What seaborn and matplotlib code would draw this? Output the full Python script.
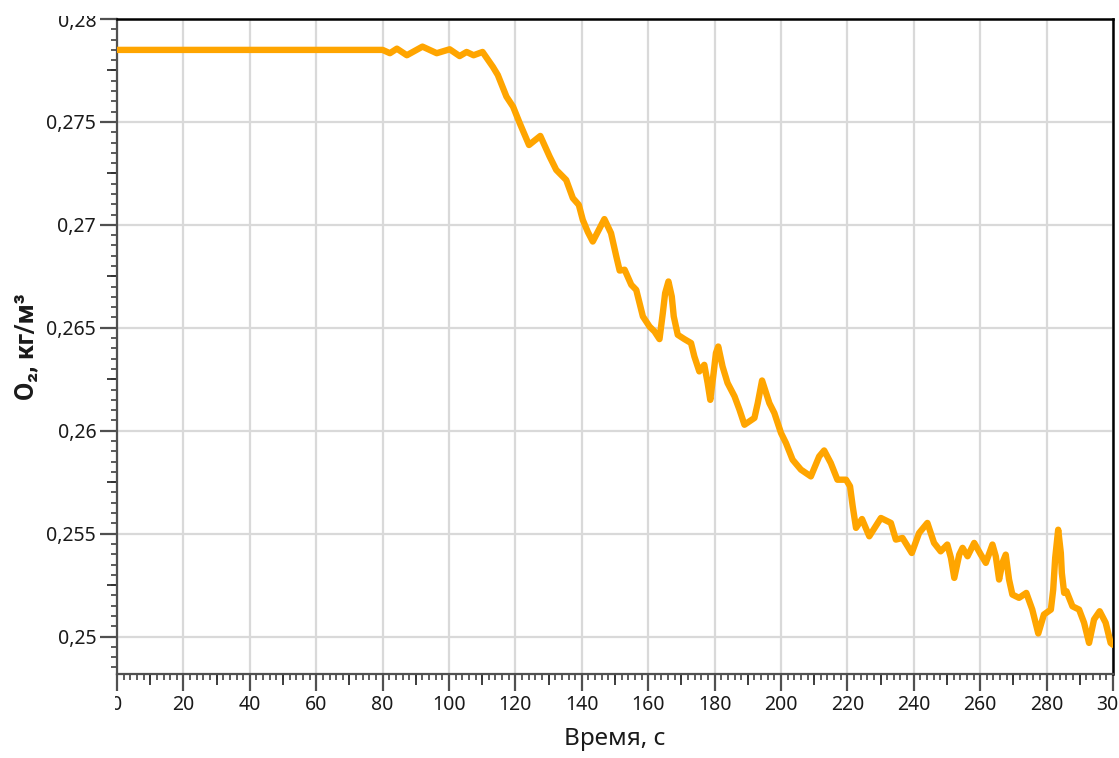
import matplotlib
matplotlib.use("Agg")
import matplotlib.pyplot as plt
from matplotlib.ticker import MultipleLocator, FuncFormatter
from matplotlib.patches import Rectangle
import seaborn as sns
import pandas as pd

# O2 concentration over time, read at irregular instants
time_s = [0, 80, 82.2, 84.3, 87.3, 92, 96.3, 100.2, 103.2, 105.3, 107.4, 110.1,
          113.2, 114.7, 117.3, 119.3, 121.3, 124.1, 127.5, 130.3, 132.3, 135.3,
          137.3, 139.1, 140.3, 141.8, 143.3, 146.8, 148.8, 150.4, 151.4, 152.9,
          154.9, 156.4, 158.4, 160.4, 161.9, 163.4, 164.4, 165.1, 166.1, 167.1,
          167.7, 168.9, 170.9, 172.9, 173.9, 175.4, 176.9, 177.9, 178.7, 179.7,
          180.4, 181.1, 182.4, 183.9, 186, 187.5, 189, 192, 193, 194.3, 196.5,
          198, 200, 201.5, 203.5, 206, 209, 211.5, 213, 215, 217, 219.6, 220.8,
          221.6, 222.6, 224.4, 226.6, 230.1, 233.1, 234.6, 236.6, 239.4, 241.6,
          244.1, 246.1, 248.1, 250.1, 251.2, 252.2, 253.7, 254.7, 256.2, 258.2,
          260.2, 261.7, 263.7, 264.7, 265.7, 266.7, 267.7, 268.7, 269.7, 271.7,
          273.9, 275.7, 277.5, 279.2, 281.3, 282, 282.6, 283.5, 284.3, 284.6,
          285.3, 286, 287.8, 289.8, 291.3, 292.8, 294.3, 296, 297.8, 299.3, 300]
o2_kg_m3 = [0.27850, 0.27850, 0.27834, 0.27856, 0.27824, 0.27866, 0.27834,
            0.27853, 0.27820, 0.27840, 0.27824, 0.27840, 0.27768, 0.27728,
            0.27623, 0.27574, 0.27494, 0.27388, 0.27432, 0.27332, 0.27267,
            0.27218, 0.27130, 0.27097, 0.27024, 0.26966, 0.26919, 0.27028,
            0.26960, 0.26846, 0.26778, 0.26782, 0.26709, 0.26684, 0.26555,
            0.26506, 0.26482, 0.26445, 0.26571, 0.26668, 0.26725, 0.26652,
            0.26555, 0.26466, 0.26445, 0.26426, 0.26361, 0.26288, 0.26320,
            0.26232, 0.26150, 0.26280, 0.26377, 0.26409, 0.26312, 0.26232,
            0.26167, 0.26102, 0.26029, 0.26062, 0.26134, 0.26244, 0.26134,
            0.26086, 0.25989, 0.25940, 0.25859, 0.25811, 0.25778, 0.25875,
            0.25904, 0.25843, 0.25762, 0.25762, 0.25730, 0.25633, 0.25528,
            0.25571, 0.25487, 0.25576, 0.25552, 0.25471, 0.25479, 0.25406,
            0.25503, 0.25552, 0.25455, 0.25414, 0.25447, 0.25382, 0.25285,
            0.25398, 0.25431, 0.25390, 0.25455, 0.25398, 0.25358, 0.25447,
            0.25390, 0.25277, 0.25358, 0.25398, 0.25277, 0.25204, 0.25188,
            0.25212, 0.25131, 0.25015, 0.25107, 0.25131, 0.25228, 0.25382,
            0.25519, 0.25406, 0.25309, 0.25212, 0.25220, 0.25147, 0.25131,
            0.25067, 0.24969, 0.25083, 0.25123, 0.25067, 0.24969, 0.24960]

x_ticks = list(range(0, 301, 20))
y_ticks = [0.25, 0.255, 0.26, 0.265, 0.27, 0.275, 0.28]

df = pd.DataFrame({"t": time_s, "o2": o2_kg_m3})

sns.set_theme(style="white")
plt.rcParams["font.family"] = ["Noto Sans", "DejaVu Sans"]

fig = plt.figure(figsize=(11.19, 7.58), dpi=100)
ax = fig.add_axes([0.1046, 0.1108, 0.8900, 0.8641])

sns.lineplot(data=df, x="t", y="o2", ax=ax, color="#FFA500", linewidth=4.6,
             solid_joinstyle="round", solid_capstyle="round", zorder=3)

ax.set_xlim(0, 300)
ax.set_ylim(0.24818, 0.28)

ax.set_xticks(x_ticks)
ax.set_yticks(y_ticks)
ax.xaxis.set_minor_locator(MultipleLocator(2))
ax.yaxis.set_minor_locator(MultipleLocator(0.0005))
ax.xaxis.set_major_formatter(FuncFormatter(lambda v, p: f"{v:g}"))
ax.yaxis.set_major_formatter(
    FuncFormatter(lambda v, p: f"{v:g}".replace(".", ",")))

ax.grid(True, which="major", color="#d9d9d9", linewidth=1.6, zorder=0)
ax.grid(False, which="minor")
ax.set_axisbelow(True)

ax.tick_params(axis="both", which="major", direction="out", length=12,
               width=1.6, color="#505050", labelsize=14, pad=3,
               labelcolor="#1a1a1a", bottom=True, left=True)
ax.tick_params(axis="both", which="minor", direction="out", length=4.3,
               width=1.1, color="#303030", bottom=True, left=True)

# intermediate ticks halfway between labelled ones
sec_x = ax.secondary_xaxis("bottom")
sec_x.set_xticks([v + 10 for v in x_ticks[:-1]])
sec_x.tick_params(direction="out", length=8, width=1.3, color="#303030",
                  bottom=True, labelbottom=False)
sec_x.spines["bottom"].set_visible(False)
sec_y = ax.secondary_yaxis("left")
sec_y.set_yticks([v + 0.0025 for v in y_ticks[:-1]])
sec_y.tick_params(direction="out", length=7.5, width=1.3, color="#303030",
                  left=True, labelleft=False)
sec_y.spines["left"].set_visible(False)

for side in ["left", "bottom"]:
    ax.spines[side].set_color("#505050")
    ax.spines[side].set_linewidth(1.6)
for side in ["top", "right"]:
    ax.spines[side].set_color("#000000")
    ax.spines[side].set_linewidth(1.8)

ax.set_xlabel("Время, с", fontsize=17.5, color="#1a1a1a", labelpad=9)
ax.set_ylabel("O₂, кг/м³", fontsize=19, fontweight="bold",
              family=["Roboto", "DejaVu Sans"], color="#1a1a1a")
ax.yaxis.set_label_coords(-0.079, 0.5)

# frame edges of the exported image
fig.patches.append(Rectangle((0, 0.045), 0.1025, 0.04, transform=fig.transFigure,
                             facecolor="white", edgecolor="none", zorder=10))
fig.patches.append(Rectangle((0, 0.979), 0.1, 0.03, transform=fig.transFigure,
                             facecolor="white", edgecolor="none", zorder=10))

fig.savefig("out.png", dpi=100, facecolor="white")
